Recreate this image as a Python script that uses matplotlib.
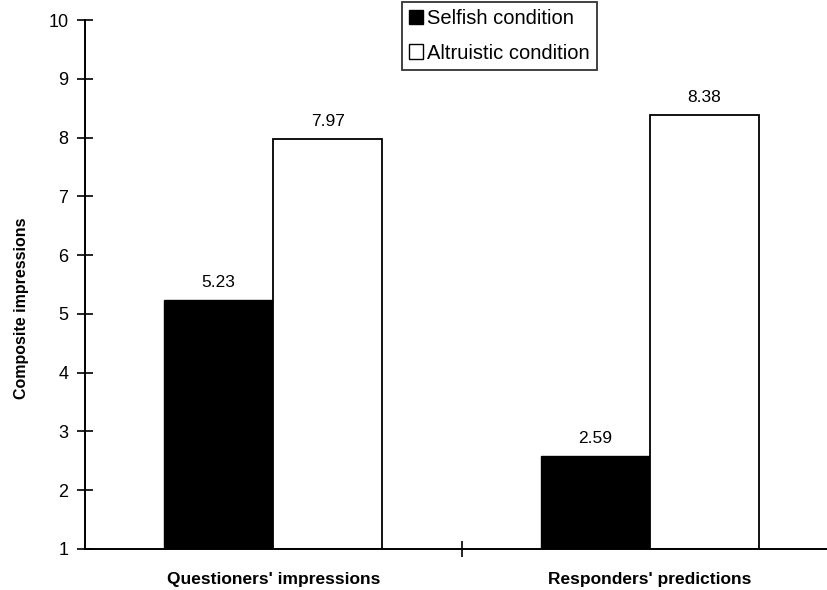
import matplotlib
matplotlib.use("Agg")
import matplotlib.pyplot as plt
from matplotlib.patches import Patch
import numpy as np

plt.rcParams['font.family'] = ['Liberation Sans', 'DejaVu Sans']

categories = ["Questioners' impressions", "Responders' predictions"]
selfish = [5.23, 2.59]
altruistic = [7.97, 8.38]
series_names = ["Selfish condition", "Altruistic condition"]
yticks = list(range(1, 11))

fig = plt.figure(figsize=(8.27, 5.9), dpi=100)
ax = fig.add_axes([0.1028, 0.0695, 0.9105, 0.8966])

x = np.arange(len(categories))
w = 0.29
ax.bar(x - w/2, np.array(selfish) - 1, w, bottom=1, color='black', edgecolor='black', linewidth=1)
ax.bar(x + w/2, np.array(altruistic) - 1, w, bottom=1, color='white', edgecolor='black', linewidth=1.3)

for xi, v in zip(x - w/2, selfish):
    ax.text(xi, v + 0.17, f"{v:.2f}", ha='center', va='bottom', fontsize=12.5)
for xi, v in zip(x + w/2, altruistic):
    ax.text(xi, v + 0.17, f"{v:.2f}", ha='center', va='bottom', fontsize=12.5)

ax.set_xlim(-0.5, 1.5)
ax.set_ylim(1, 10)
ax.set_yticks(yticks)
ax.set_yticklabels([str(t) for t in yticks], fontsize=13)
ax.set_xticks([0.5])
ax.set_xticklabels([''])
ax.tick_params(axis='y', direction='inout', length=12, width=1.2, pad=6)
ax.tick_params(axis='x', direction='inout', length=12, width=1.2)

for s in ['top', 'right']:
    ax.spines[s].set_visible(False)
for s in ['left', 'bottom']:
    ax.spines[s].set_linewidth(1.4)

for xi, c in zip(x, categories):
    ax.text(xi, -0.058, c, transform=ax.get_xaxis_transform(), ha='center', va='center',
            fontsize=12.5, fontweight='bold')

ax.set_ylabel("Composite impressions", fontsize=11.5, fontweight='bold')
ax.yaxis.set_label_coords(-0.074, 0.455)

handles = [Patch(facecolor='black', edgecolor='black'),
           Patch(facecolor='white', edgecolor='black')]
leg = fig.legend(handles, series_names, loc='upper left', bbox_to_anchor=(0.486, 0.996),
                 fontsize=14.5, frameon=True, fancybox=False, edgecolor='black',
                 handlelength=0.7, handleheight=0.7, handletextpad=0.2,
                 borderpad=0.35, labelspacing=0.75, borderaxespad=0)
leg.get_frame().set_linewidth(1.3)

fig.savefig("out.png", dpi=100)
